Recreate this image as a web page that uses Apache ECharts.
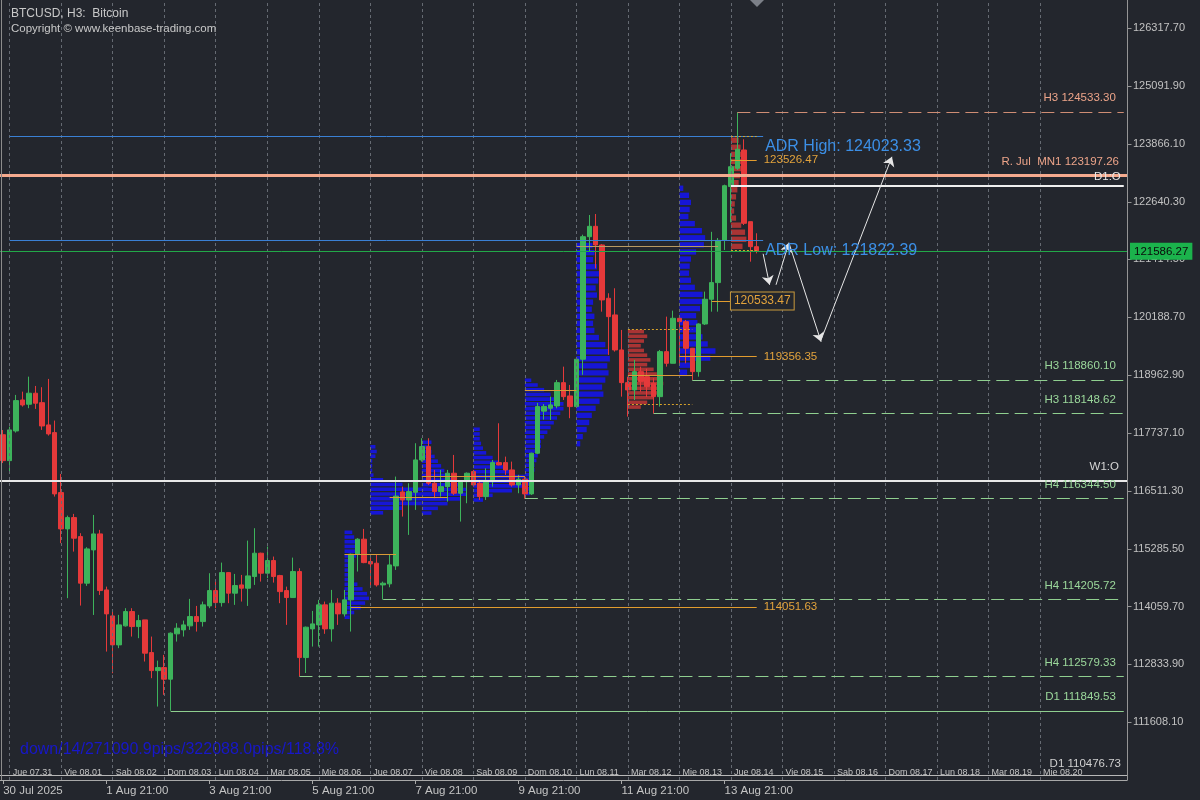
<!DOCTYPE html>
<html>
<head>
<meta charset="utf-8">
<title>BTCUSD H3</title>
<script src="https://cdn.jsdelivr.net/npm/echarts@6.0.0/dist/echarts.min.js"></script>
<style>
html,body{margin:0;padding:0;background:#23262d;}
#chart{width:1200px;height:800px;}
</style>
</head>
<body>
<div id="chart"></div>
<script>
// ---------------- data ----------------
const opens = [117700,117151,117780,118437,118346,118580,118380,117908,117745,116474,
 115704,115944,115541,114554,115259,115598,114411,113860,113246,113649,
 113952,113634,113776,113083,112701,112765,112519,113480,113564,113649,
 113846,113740,114072,114397,114142,114778,114342,114517,114447,114694,
 115189,114765,115033,114714,114397,114249,114800,112977,113585,113670,
 114094,113585,114130,113903,114200,115168,115486,115012,114977,114517,
 114539,114920,116488,116318,116480,117166,117448,116672,116495,116600,
 116884,116460,116706,116919,116672,116389,116706,117109,117109,116954,
 116636,116757,116446,117308,118200,118261,118310,118804,118522,118296,
 119300,121897,122117,121722,120592,120239,119497,118804,118649,119037,
 118931,118790,118507,119461,119214,120168,120097,119532,119037,120047,
 120571,120924,121819,122960,123347,123735,122216,121686];
const highs = [117800,117872,118544,118613,118931,118734,118707,118883,118000,116869,
 115986,116022,115613,115316,116000,115683,114481,113952,113882,114024,
 114024,113882,113776,113422,112913,113034,113510,113706,113761,114221,
 114072,114164,114765,114587,114990,114790,114750,114729,115456,115719,
 115200,115330,115118,114730,114481,115096,114871,113634,113966,114200,
 114164,114411,114235,114411,115180,115507,115704,115153,115153,114587,
 115153,116813,116600,116672,117520,117626,117626,116954,116954,116954,
 117272,116720,116900,116954,116706,116990,117166,117943,117236,117130,
 116848,116813,117320,118374,118350,118507,118861,119143,118755,119320,
 121940,122357,122378,121740,120698,120804,119921,118931,119285,119143,
 119100,118900,119497,120203,120330,120238,120132,119540,120060,120733,
 122000,121869,123000,123667,124533.30,123962,122216,121970];
const lows = [117100,116918,117745,118296,118262,118247,117802,117682,116389,115401,
 114236,115223,114079,114496,113880,114305,113104,112646,113176,113634,
 113422,113388,112893,112540,111939,112187,111849.53,113316,113422,113564,
 113528,113634,114024,114024,114058,114130,114094,114164,114072,114517,
 114587,114659,114566,114130,113670,114240,112579.33,112650,113210,113210,
 113480,113316,113670,113846,113528,114800,114977,114481,114481,114205.72,
 114467,114835,115965,115577,116107,117130,116636,116354,116389,116283,
 116424,115859,116248,116600,116318,116318,116600,117050,116848,116600,
 116460,116344.50,116424,117290,118020,118014,118261,118437,118050,118290,
 118970,121580,121228,120308,119392,119461,118507,118084,118437,118613,
 118500,118148.62,118296,119143,119214,119214,119214,118860.10,118931,120026,
 120308,120308,121616,122200,123311,122145,121368,121544];
const closes = [117151,117802,118423,118331,118580,118368,117886,117717,116446,115704,
 115944,115507,114554,115280,115598,114397,113903,113246,113670,113952,
 113634,113761,113070,112701,112765,112519,113494,113600,113670,113846,
 113740,114094,114397,114142,114778,114342,114503,114447,114708,115189,
 114765,115033,114694,114375,114249,114800,112977,113621,113691,114094,
 113585,114130,113903,114200,115168,115486,114990,114962,114517,114553,
 114941,116400,116318,116495,117166,117448,116672,116495,116600,116884,
 116460,116706,116884,116636,116389,116706,117109,117060,116954,116636,
 116757,116446,117308,118296,118300,118332,118804,118507,118296,119300,
 121897,122117,121722,120557,120203,119497,118804,118649,119037,118825,
 118719,118507,119461,119214,120168,120097,119532,119037,120047,120571,
 120924,121819,122978,123380,123750,122181,121686,121586.27];

// price-axis tick labels
const priceTicks = [111608.10,112833.90,114059.70,115285.50,116511.30,117737.10,118962.90,
 120188.70,121414.50,122640.30,123866.10,125091.90,126317.70];

const rJulMN1 = 123197.26;
const weekOpen = 116725.46;
const dayOpen = 122975;
const lastPrice = 121586.27;
const adrHigh = 124023.33;
const adrLow = 121822.39;
const d1Upper = 119804.73;
const d1Lower = 110476.73;
const adrStart = 1, adrEnd = 118, adrTextAt = 118, dayOpenStart = 113;

const levelTags   = ['H3','H3','H3','H4','H4','H4','D1'];
const levelPrices = [124533.30,118860.10,118148.62,116344.50,114205.72,112579.33,111849.53];
const levelStarts = [114,107,101,81,59,46,26];
const levelIsResistance = [true,false,false,false,false,false,false];

const pocPrices = [123526.47,120533.47,119356.35,114051.63];
const pocStarts = [113,110,105,54];
const pocEnds   = [117,113,117,117];

const sessionPocPrices = [121700,118649,116812,116376,115174,118970];
const sessionPocStarts = [89,81,65,60,53,97];
const sessionPocEnds   = [111,89,81,69,61,107];

const valueAreaPrices = [119936,118353,124017,121601];
const valueAreaStarts = [97,97,113,113];
const valueAreaEnds   = [107,107,117,117];

// projected path (bar index, price)
const arrowFrom = [[118,121535],[120,120878],[122,121768],[127,119713]];
const arrowTo   = [[119,120878],[122,121768],[127,119670],[138,123590]];

// volume profiles: widths (in bar widths) from the top row down
const profAug6  = [1.2,1.5,2.0,2.2,2.0,1.8,1.5,1.2,1.0,1.2,1.5,2.0,2.8,3.5,3.8,3.2,2.5,1.5,0.8];
const profAug7  = [0.8,1.0,0.8,0.3,0.3,0.3,0.5,2,5,9,12,11,8,5,2];
const profAug8  = [1.5,1.2,1.5,2,2.5,3,3.5,4,5,6,7,7,6,4,2.5,1.5];
const profAug9  = [1.0,1.0,1.0,1.2,1.5,2,3,4,5,6,8,9,8,6,3,1.5];
const profAug10 = [1,2,3,4,5,6,6,5.5,5,4.5,4,3.5,3,2.5,2.5,2,2,1.8,1.5,1.5,1.2,1.2,1,1,0.8];
const profAug11 = [2.5,2.8,2.6,3.2,3.5,3.4,3.0,3.2,2.6,2.4,2.8,2.6,2.8,3.5,4.5,5.0,5.2,4.8,5.0,4.5,4.0,4.2,3.6,3.0,2.4,2.0,1.6,1.0,0.6];
const profAug12 = [2.5,3,2.5,2,2.5,3,3.5,3,4,4.5,5,5.5,5,4.5,4,3,2];
const profAug13 = [0.6,1.5,1.8,1.6,1.4,2.4,3.5,4.0,3.8,2.6,1.8,1.6,1.5,1.8,2.4,3.6,3.9,3.2,2.6,2.8,3.2,3.6,4.4,5.6,4.8,2.4,1.2];
const profAug14 = [1.2,1.5,1.8,2,1.6,1.4,1.2,1,0.8,0.6,0.5,0.8,1.6,2.2,2.4,1.8];
const profileWidths = [profAug6,profAug7,profAug8,profAug9,profAug10,profAug11,profAug12,profAug13,profAug14];
const profileStarts = [53,57,65,73,81,89,97,105,113];
const profileTops   = [115682,117495,117590,117866,118904,121785,119936,122999,124017];
const profileSteps  = [100,100,100,100,100,150,100,150,150];
const profileSell   = [false,false,false,false,false,false,true,false,true];

// ---------------- helpers ----------------
const FONT = 'Liberation Sans, Arial, sans-serif';
const DAY_NAMES = ['Dom','Lun','Mar','Mie','Jue','Vie','Sab'];
const MONTHS = ['Jan','Feb','Mar','Apr','May','Jun','Jul','Aug','Sep','Oct','Nov','Dec'];
const pad2 = n => String(n).padStart(2,'0');
const firstBar = Date.UTC(2025,6,30,21,0,0);
const BAR_MS = 3*3600*1000;
const SLOTS = 175;
const lastDaySep = Date.UTC(2025,7,20,0,0,0);
const cats = Array.from({length:SLOTS}, (_,i) => String(firstBar + i*BAR_MS));
const isDayStart = i => { const t = Number(cats[i]); return new Date(t).getUTCHours() === 0 && t <= lastDaySep; };
const isTimeTick = i => i % 16 === 0 && i < closes.length;
const dayLabel = v => { const d = new Date(Number(v)); return DAY_NAMES[d.getUTCDay()] + ' ' + pad2(d.getUTCMonth()+1) + '.' + pad2(d.getUTCDate()); };
const timeLabel = (v, i) => { const d = new Date(Number(v));
  if (i === 0) return d.getUTCDate() + ' ' + MONTHS[d.getUTCMonth()] + ' ' + d.getUTCFullYear();
  return d.getUTCDate() + ' ' + MONTHS[d.getUTCMonth()] + ' ' + pad2(d.getUTCHours()) + ':' + pad2(d.getUTCMinutes()); };

const candleData = opens.map((o,i) => [o, closes[i], lows[i], highs[i]]);

const profileData = [];
profileWidths.forEach((ws, p) => {
  ws.forEach((w, k) => {
    const top = profileTops[p] - k*profileSteps[p];
    profileData.push([profileStarts[p], top, top - profileSteps[p], w, profileSell[p] ? 1 : 0]);
  });
});

const SALMON = '#eda489', SALMON_LINE = '#f5aa8e', GREEN_T = '#9bd89b', GREEN_L = '#8fcf8f', ORANGE = '#e29c2e';
const baseLbl = {fontFamily: FONT, fontSize: 11.5};

const sepItems = [];
for (let i=0;i<SLOTS;i++) if (isDayStart(i)) sepItems.push({xAxis: i});

const fullItems = [
  {yAxis: rJulMN1, lineStyle:{color:SALMON_LINE, width:3, type:'solid'},
   label:Object.assign({show:true, position:'insideEndTop', distance:8, color:SALMON, formatter:'R. Jul  MN1 ' + rJulMN1.toFixed(2)}, baseLbl)},
  {yAxis: weekOpen, lineStyle:{color:'#e8e8e8', width:2, type:'solid'},
   label:Object.assign({show:true, position:'insideEndTop', distance:8, color:'#d6d6d6', formatter:'W1:O'}, baseLbl)},
  {yAxis: weekOpen, lineStyle:{opacity:0},
   label:Object.assign({show:true, position:'end', distance:3, color:'#111', backgroundColor:'#f2f2f2', borderColor:'#8a8a8a', borderWidth:1, padding:[3,4,2,4], formatter: weekOpen.toFixed(2)}, baseLbl)},
  {yAxis: lastPrice, lineStyle:{color:'#22a848', width:1, type:'solid'},
   label:Object.assign({show:true, position:'end', distance:3, color:'#0b0b0b', backgroundColor:'#1bb34c', padding:[3,4,2,4], formatter: lastPrice.toFixed(2)}, baseLbl)},
  {yAxis: d1Lower, lineStyle:{color:'#b8b8b8', width:1, type:'solid'},
   label:Object.assign({show:true, position:'insideEndTop', distance:6, color:'#d0d0d0', formatter:'D1 ' + d1Lower.toFixed(2)}, baseLbl)},
  {yAxis: d1Upper, lineStyle:{opacity:0},
   label:Object.assign({show:true, position:'insideEndTop', distance:8, color:SALMON, formatter:'D1 ' + d1Upper.toFixed(2)}, baseLbl)}
];

const segItems = [];
levelPrices.forEach((p,k) => {
  const res = levelIsResistance[k];
  segItems.push([{coord:[levelStarts[k], p],
    lineStyle:{color: res ? '#cf8d74' : GREEN_L, width:1, type: levelTags[k]==='D1' ? 'solid' : [13,6]},
    label:Object.assign({show:true, position:'insideEndTop', distance:8, color: res ? SALMON : GREEN_T, formatter: levelTags[k] + ' ' + p.toFixed(2)}, baseLbl)},
    {coord:[SLOTS-1, p]}]);
});
segItems.push([{coord:[dayOpenStart, dayOpen], lineStyle:{color:'#efefef', width:2, type:'solid'},
  label:Object.assign({show:true, position:'insideEndTop', distance:3, color:'#e8e8e8', formatter:'D1:O'}, baseLbl)}, {coord:[SLOTS-1, dayOpen]}]);
segItems.push([{coord:[adrStart, adrHigh], lineStyle:{color:'#3a80d4', width:1, type:'solid'}}, {coord:[adrEnd, adrHigh]}]);
segItems.push([{coord:[adrStart, adrLow], lineStyle:{color:'#3a80d4', width:1, type:'solid'}}, {coord:[adrEnd, adrLow]}]);
pocPrices.forEach((p,k) => {
  const boxed = k === 1;
  segItems.push([{coord:[pocStarts[k], p], lineStyle:{color:ORANGE, width:1, type:'solid'},
    label:Object.assign({show:true, position:'end', distance: boxed ? 0 : 7, color:'#e3a33c', formatter:p.toFixed(2)},
      baseLbl, boxed ? {fontSize:12, borderColor:'#c99a3c', borderWidth:1, padding:[3,3,2,3], backgroundColor:'#23262d'} : {})},
    {coord:[pocEnds[k], p]}]);
});
sessionPocPrices.forEach((p,k) => {
  segItems.push([{coord:[sessionPocStarts[k], p], lineStyle:{color: k===0 ? '#b89a62' : '#d99a36', width:1, type:'solid'}}, {coord:[sessionPocEnds[k], p]}]);
});
valueAreaPrices.forEach((p,k) => {
  segItems.push([{coord:[valueAreaStarts[k], p], lineStyle:{color:'#d7a22a', width:1, type:[2,2]}}, {coord:[valueAreaEnds[k], p]}]);
});

const arrowItems = arrowFrom.map((f,k) => [{coord:f}, {coord:arrowTo[k]}]);

const option = {
  backgroundColor: '#23262d',
  animation: false,
  title: {text:'BTCUSD, H3:  Bitcoin', subtext:'Copyright © www.keenbase-trading.com', left:6, top:3, itemGap:3,
    textStyle:{fontFamily:FONT, fontSize:12, fontWeight:'normal', color:'#c9c9c9'},
    subtextStyle:{fontFamily:FONT, fontSize:11.5, color:'#c9c9c9'}},
  grid: {left:0, right:73, top:0, bottom:20, show:false},
  xAxis: [
    {type:'category', data:cats, boundaryGap:true, position:'bottom',
     axisLine:{show:true, onZero:false, lineStyle:{color:'#a8a8a8'}},
     axisTick:{show:true, alignWithLabel:true, interval:isTimeTick, length:4, lineStyle:{color:'#a8a8a8'}},
     axisLabel:{show:true, inside:true, interval:isDayStart, formatter:dayLabel, align:'left', color:'#c4c4c4', fontFamily:FONT, fontSize:9, margin:3, padding:[0,0,0,3]},
     splitLine:{show:false}},
    {type:'category', data:cats, boundaryGap:true, position:'top', offset:-800,
     axisLine:{show:false, onZero:false}, axisTick:{show:false},
     axisLabel:{show:true, interval:isTimeTick, formatter:timeLabel, align:'left', color:'#c4c4c4', fontFamily:FONT, fontSize:11.5, margin:3},
     splitLine:{show:false}}
  ],
  yAxis: {type:'value', position:'right', min:110382.3, max:126913.7, interval:1225.8,
    axisLine:{show:true, onZero:false, lineStyle:{color:'#959595'}},
    axisTick:{show:false},
    axisLabel:{color:'#c2c2c2', fontFamily:FONT, fontSize:11, margin:6, showMinLabel:false, showMaxLabel:false,
      formatter: v => v.toFixed(2)},
    splitLine:{show:false}, minorTick:{show:false}, minorSplitLine:{show:false}, splitArea:{show:false}},
  graphic: [
    {type:'line', z:50, shape:{x1:1.5, y1:0, x2:1.5, y2:780}, style:{stroke:'#8c8c8c', lineWidth:1}},
    {type:'text', left:20, top:742, z:50, style:{text:'down/14/271090.9pips/322088.0pips/118.8%', fill:'#1717c9', font:'16px ' + FONT}},
    {type:'polygon', z:50, shape:{points:[[750,0],[764,0],[757,7]]}, style:{fill:'#7c8088'}}
  ],
  series: [
    {type:'line', xAxisIndex:0, data:[], z:0, silent:true,
     markLine:{silent:true, symbol:['none','none'], animation:false, label:{show:false},
       lineStyle:{color:'#656a72', width:1, type:[3,3]}, data: sepItems}},
    {type:'custom', xAxisIndex:0, z:1, silent:true, data:profileData, encode:{x:0, y:[1,2]}, clip:true,
     renderItem: (params, api) => {
       const a = api.coord([api.value(0), api.value(1)]);
       const b = api.coord([api.value(0), api.value(2)]);
       const band = api.size([1,0])[0];
       const h = b[1] - a[1];
       return {type:'rect', shape:{x:a[0], y:a[1] + h*0.12, width: api.value(3)*band, height: Math.max(1, h*0.76)},
         style:{fill: api.value(4) ? '#a93434' : '#1616d6'}};
     }},
    {type:'line', xAxisIndex:0, data:[], z:2, silent:true,
     markLine:{silent:true, symbol:['none','none'], animation:false, data: fullItems.concat(segItems)}},
    {type:'candlestick', xAxisIndex:0, z:3, data:candleData, barWidth:5,
     itemStyle:{color:'#3db35b', color0:'#e5393a', borderColor:'#3db35b', borderColor0:'#e5393a', borderWidth:1}},
    {type:'line', xAxisIndex:0, data:[], z:4, silent:true,
     markLine:{silent:true, symbol:['none','arrow'], symbolSize:9, animation:false, label:{show:false},
       lineStyle:{color:'#e6e6e6', width:1, type:'solid'}, data: arrowItems},
     markPoint:{silent:true, symbol:'rect', symbolSize:0, animation:false, data:[
       {coord:[adrTextAt, adrHigh], label:{show:true, position:'right', distance:2, offset:[0,10], color:'#3c8fe6', fontFamily:FONT, fontSize:16, formatter:'ADR High: ' + adrHigh.toFixed(2)}},
       {coord:[adrTextAt, adrLow], label:{show:true, position:'right', distance:2, offset:[0,10], color:'#3c8fe6', fontFamily:FONT, fontSize:16, formatter:'ADR Low: ' + adrLow.toFixed(2)}}
     ]}},
    // price-axis tick marks, placed through the y scale
    {type:'custom', xAxisIndex:0, z:5, silent:true, clip:false, data: priceTicks.map(v => [SLOTS-1, v]), encode:{x:0, y:1},
     renderItem: (params, api) => {
       const c = api.coord([api.value(0), api.value(1)]);
       const band = api.size([1,0])[0];
       const x0 = Math.round(c[0] + band/2) + 0.5, y0 = Math.round(c[1]) + 0.5;
       return {type:'line', shape:{x1:x0, y1:y0, x2:x0 + 4, y2:y0}, style:{stroke:'#959595', lineWidth:1}};
     }}
  ]
};
const chart = echarts.init(document.getElementById('chart'), null, {renderer:'canvas'});
chart.setOption(option);
</script>
</body>
</html>
